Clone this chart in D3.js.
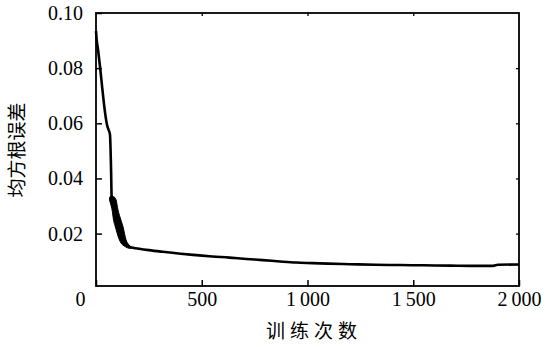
<!DOCTYPE html>
<html>
<head>
<meta charset="utf-8">
<script src="https://cdn.jsdelivr.net/npm/d3@7"></script>
<style>
  body { margin: 0; background: #fff; }
  .tick text { font-family: "Liberation Serif", "Times New Roman", Times, serif; }
</style>
</head>
<body>
<div id="chart"></div>
<script>
// training curve
const iterations = [0, 3, 10, 19, 30, 43, 52, 60, 66, 71, 74, 90, 104, 118, 130, 142, 156, 175, 205, 250, 315, 400, 473, 550, 630, 710, 788, 870, 946, 1025, 1100, 1201, 1320, 1437, 1550, 1674, 1780, 1878, 1900, 2000];
const rmse = [0.0935, 0.0905, 0.0865, 0.0805, 0.0725, 0.0638, 0.0595, 0.0575, 0.0560, 0.0441, 0.0333, 0.0275, 0.0238, 0.0208, 0.0188, 0.0163, 0.0153, 0.0149, 0.0145, 0.0140, 0.0134, 0.0127, 0.0122, 0.0117, 0.0113, 0.0108, 0.0104, 0.0099, 0.0095, 0.0093, 0.0091, 0.0089, 0.0087, 0.0086, 0.0085, 0.0084, 0.0083, 0.0083, 0.0087, 0.0088];

// oscillation band right after the steep drop
const bandIters = [64, 70, 76, 83, 90, 95, 104, 118, 128, 142, 156, 170];
const bandHigh = [0.0330, 0.0336, 0.0336, 0.0334, 0.0330, 0.0322, 0.0286, 0.0249, 0.0224, 0.0177, 0.0159, 0.0150];
const bandLow = [0.0322, 0.0305, 0.0286, 0.0249, 0.0228, 0.0215, 0.0191, 0.0166, 0.0158, 0.0151, 0.0147, 0.0147];

const xTicks = [0, 500, 1000, 1500, 2000];
const yTicks = [0.02, 0.04, 0.06, 0.08, 0.10];
const xTitle = "训练次数";
const yTitle = "均方根误差";

// set the dimensions and margins of the graph
const margin = {top: 13, right: 26, bottom: 61, left: 96},
  width = 545 - margin.left - margin.right,
  height = 347 - margin.top - margin.bottom;

const svg = d3.select("#chart")
.append("svg")
  .attr("width", 545)
  .attr("height", 347)
.append("g")
  .attr("transform", `translate(${margin.left},${margin.top})`);

const x = d3.scaleLinear()
  .domain([0, 2000])
  .range([0, width]);

const y = d3.scaleLinear()
  .domain([0.001, 0.1])
  .range([height, 0]);

// x axis, ticks point inward
const fmtX = d => d >= 1000 ? `${Math.floor(d / 1000)}\u2009${String(d % 1000).padStart(3, "0")}` : `${d}`;
const xAxis = svg.append("g")
  .call(d3.axisBottom(x).tickValues(xTicks).tickFormat(fmtX).tickSizeInner(-6).tickSizeOuter(0).tickPadding(6))
  .attr("transform", `translate(0, ${height})`);
xAxis.select(".domain").remove();
xAxis.selectAll("line").attr("stroke", "#000").attr("stroke-width", 1.5);
xAxis.selectAll("text")
  .style("font-size", "20px").attr("fill", "#000")
  .attr("dx", d => d === 0 ? -16 : 0);

// y axis
const yAxis = svg.append("g")
  .call(d3.axisLeft(y).tickValues(yTicks).tickFormat(d3.format(".2f")).tickSizeInner(-6).tickSizeOuter(0).tickPadding(13));
yAxis.select(".domain").remove();
yAxis.selectAll("line").attr("stroke", "#000").attr("stroke-width", 1.5);
yAxis.selectAll("text")
  .style("font-size", "20px").attr("fill", "#000");

// mirrored short ticks on right and top
svg.append("g")
  .attr("transform", `translate(${width},0)`)
  .call(d3.axisRight(y).tickValues(yTicks.slice(0, 4)).tickFormat("").tickSizeInner(-3).tickSizeOuter(0))
  .call(g => g.select(".domain").remove())
  .selectAll("line").attr("stroke", "#000").attr("stroke-width", 1.3);
svg.append("g")
  .call(d3.axisTop(x).tickValues(xTicks.slice(1, 4)).tickFormat("").tickSizeInner(-3).tickSizeOuter(0))
  .call(g => g.select(".domain").remove())
  .selectAll("line").attr("stroke", "#000").attr("stroke-width", 1.3);

// frame
svg.append("rect")
  .attr("x", 0).attr("y", 0)
  .attr("width", width).attr("height", height)
  .attr("fill", "none")
  .attr("stroke", "#000")
  .attr("stroke-width", 1.8);

// band
const band = bandIters.map((d, i) => ({it: d, lo: bandLow[i], hi: bandHigh[i]}));
svg.append("path")
  .datum(band)
  .attr("fill", "#000")
  .attr("stroke", "#000")
  .attr("stroke-width", 1)
  .attr("d", d3.area()
    .x(d => x(d.it))
    .y0(d => y(d.lo))
    .y1(d => y(d.hi))
    .curve(d3.curveMonotoneX));

// curve
const points = iterations.map((d, i) => ({it: d, v: rmse[i]}));
svg.append("path")
  .datum(points)
  .attr("fill", "none")
  .attr("stroke", "#000")
  .attr("stroke-width", 2.6)
  .attr("stroke-linejoin", "round")
  .attr("d", d3.line()
    .x(d => x(d.it))
    .y(d => y(d.v))
    .curve(d3.curveMonotoneX));

// axis titles
svg.append("text")
  .attr("x", x(1000) + 4)
  .attr("y", height + 52)
  .attr("text-anchor", "middle")
  .attr("textLength", 91)
  .attr("lengthAdjust", "spacing")
  .style("font-family", "'Noto Sans CJK SC', sans-serif")
  .style("font-size", "19px")
  .text(xTitle);

svg.append("text")
  .attr("transform", "rotate(-90)")
  .attr("x", -(150 - margin.top))
  .attr("y", -margin.left + 24)
  .attr("text-anchor", "middle")
  .style("font-family", "'Noto Sans CJK SC', sans-serif")
  .style("font-size", "19px")
  .text(yTitle);
</script>
</body>
</html>
